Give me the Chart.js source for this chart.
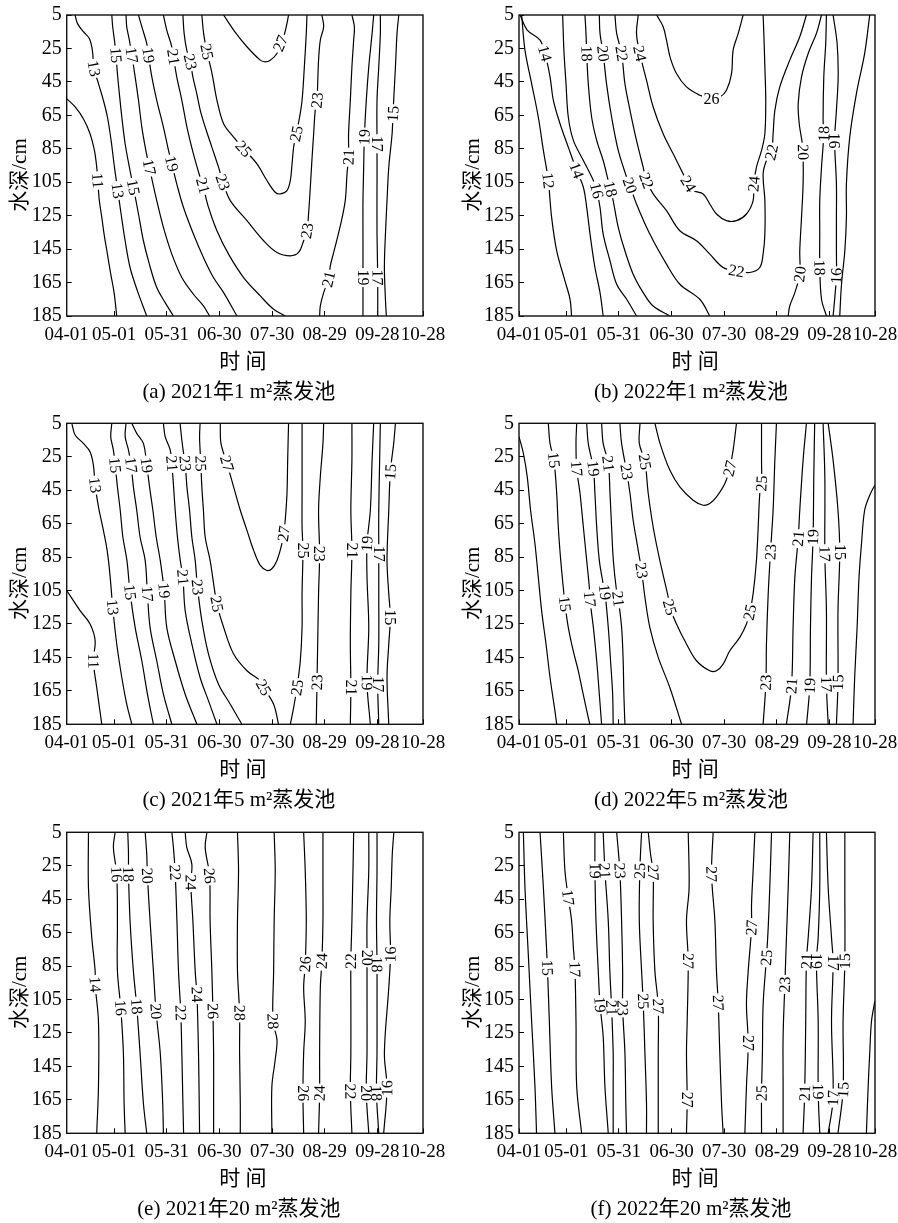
<!DOCTYPE html>
<html lang="zh">
<head>
<meta charset="utf-8">
<title>蒸发池水温等值线</title>
<script src="https://cdn.jsdelivr.net/npm/chart.js@4.4.1/dist/chart.umd.min.js"></script>
<style>
  html, body { margin: 0; padding: 0; background: #fff; }
  body { position: relative; width: 898px; height: 1223px; overflow: hidden; }
  canvas { position: absolute; }
</style>
</head>
<body>
<canvas id="pa" width="449" height="408" style="left:0;top:0"></canvas>
<canvas id="pb" width="449" height="408" style="left:449px;top:0"></canvas>
<canvas id="pc" width="449" height="407" style="left:0;top:408px"></canvas>
<canvas id="pd" width="449" height="407" style="left:449px;top:408px"></canvas>
<canvas id="pe" width="449" height="408" style="left:0;top:815px"></canvas>
<canvas id="pf" width="449" height="408" style="left:449px;top:815px"></canvas>
<script>
// x = days after 04-01, y = water depth (cm)
const X_MIN = 3, X_MAX = 206;
const X_TICKS = [3, 30, 60, 90, 120, 150, 180, 206];
const X_LABELS = ['04-01', '05-01', '05-31', '06-30', '07-30', '08-29', '09-28', '10-28'];
const Y_TICKS = [5, 25, 45, 65, 85, 105, 125, 145, 165, 185];
const X_TITLE = '时 间';
const Y_TITLE = '水深/cm';
const CAPTIONS = ['(a) 2021年1 m²蒸发池', '(b) 2022年1 m²蒸发池', '(c) 2021年5 m²蒸发池',
                  '(d) 2022年5 m²蒸发池', '(e) 2021年20 m²蒸发池', '(f) 2022年20 m²蒸发池'];

// isotherms: v = temperature, pts = [day, depth], lab = indexes of labelled points
const LINES_A = [
  {v: 11, pts: [[3,55],[7.8,60],[12.5,67],[16.3,76],[18.8,86],[20.1,96],[20.7,104],[21.6,116],[23,126],[24.3,136],[26.2,148],[28.1,160],[30,171],[31.5,185]], lab: [6]},
  {v: 13, pts: [[7.8,5],[9.1,10],[12.5,15],[15.9,19],[17.6,26],[18.6,37],[21.1,46],[23.9,56],[26.2,66],[28.3,80],[30.2,96],[32.1,110],[34,124],[36.3,140],[39.1,156],[43.3,170],[48.6,185]], lab: [5, 11]},
  {v: 15, pts: [[28.7,5],[29.2,12],[30.2,20],[31.1,29],[31.9,40],[33,52],[34.4,66],[36.3,82],[38.7,96],[41,108],[43.9,124],[46.7,140],[50.1,154],[54.3,168],[59.1,177],[63.8,185]], lab: [3, 9]},
  {v: 17, pts: [[36.8,5],[37.2,12],[38.7,20],[40.1,29],[42,42],[43.9,56],[45.8,72],[48.1,86],[50.1,96],[54.3,116],[58.1,132],[62.9,148],[68.6,162],[75.2,172],[80.9,179],[84.4,185]], lab: [3, 8]},
  {v: 19, pts: [[43.9,5],[45.8,12],[48.6,22],[49.6,29],[51.5,42],[54.3,56],[58.1,72],[61,86],[62.9,94],[65.7,106],[69.5,120],[75.2,136],[80.9,150],[86.6,162],[92.4,171],[100,185]], lab: [3, 8]},
  {v: 21, pts: [[58.1,5],[60,14],[62.9,24],[63.8,30],[65.7,42],[68.6,56],[71.5,72],[75.2,88],[79,102],[80.6,107],[83.8,120],[88.6,134],[95.2,148],[103.8,162],[113.3,173],[120.9,181],[127.5,185]], lab: [3, 9]},
  {v: 23, pts: [[69.2,5],[69.9,16],[71.4,26],[73.4,33],[74.9,42],[77.1,52],[79.1,62],[81.9,72],[85.7,84],[89.5,96],[92,105],[96.2,116],[105.7,128],[115.2,140],[122.8,147],[130.4,149],[135.1,147],[138,140],[139.9,134],[140.8,124],[141.8,108],[142.7,92],[143.7,76],[144.6,62],[145.6,56],[146,46],[146.5,32],[147.5,20],[149.4,12],[148.4,5]], lab: [3, 10, 18, 24]},
  {v: 25, pts: [[80,5],[81,16],[82.9,27],[85.8,40],[88.6,56],[92.4,70],[98.1,78],[103.8,85],[111.4,94],[117.1,104],[121.8,111],[124.7,112],[128.5,110],[130.4,104],[131.4,94],[132.3,84],[133.8,76],[135.7,66],[137.1,56],[138.4,36],[139.5,16],[139.9,5]], lab: [2, 7, 16]},
  {v: 27, pts: [[92.4,5],[98.1,14],[105.7,24],[113.3,32],[116.1,33],[119,32],[122.8,28],[124.7,22],[126.6,18],[128.5,10],[129.4,5]], lab: [7]},
  {v: 21, pts: [[165.5,5],[166.9,12],[166.5,20],[165.5,36],[164.6,56],[163.6,76],[163.6,90],[162.7,100],[161.7,116],[158.9,131],[155.1,147],[153.2,155],[152.2,163],[149.4,171],[147.5,179],[147.1,185]], lab: [6, 12]},
  {v: 19, pts: [[177.9,5],[177,16],[175.1,36],[173.7,56],[172.6,78],[172.2,96],[171.8,116],[171.8,136],[171.8,162],[171.8,185]], lab: [4, 8]},
  {v: 17, pts: [[181.7,5],[181.7,16],[180.8,36],[179.8,56],[179.8,82],[179.8,106],[179.8,136],[180.2,162],[180.2,185]], lab: [4, 7]},
  {v: 15, pts: [[192.2,5],[191.2,16],[190.3,36],[189.3,56],[188.9,64],[188.4,76],[186.5,96],[185.5,116],[184.6,136],[184,156],[184.6,175],[185.1,185]], lab: [4]}
];

const LINES_B = [
  {v: 12, pts: [[4.5,5],[6.4,26],[10.2,46],[14,66],[16.9,86],[19.7,104],[21.6,126],[24.5,146],[29.2,164],[32.1,175],[33,185]], lab: [5]},
  {v: 14, pts: [[3.6,5],[7.7,14],[15,20],[17.8,28],[20.7,42],[22.6,56],[26.4,70],[31.1,84],[35.9,98],[39.7,108],[41.6,120],[43.5,136],[46.3,156],[49.2,171],[51,185]], lab: [3, 8]},
  {v: 16, pts: [[27.9,5],[28.6,26],[29.8,46],[31.1,66],[34,80],[39.7,92],[45.4,104],[47.3,110],[49.2,120],[51,136],[54.9,152],[58.7,166],[64.4,175],[70,185]], lab: [7]},
  {v: 18, pts: [[40.6,5],[41.2,16],[41.6,28],[42.5,46],[44.4,66],[47.3,80],[51,92],[53.9,104],[55.2,109],[56.7,116],[59.6,132],[63.4,146],[68.1,160],[73.8,171],[79.5,179],[89,185]], lab: [2, 8]},
  {v: 20, pts: [[48.8,5],[49.2,16],[51,28],[52.9,46],[55.8,66],[59.6,86],[64.4,102],[66.3,107],[70,118],[77.6,136],[87.1,154],[94.7,166],[106.1,175],[111.8,185]], lab: [2, 7]},
  {v: 22, pts: [[57.7,5],[58.7,16],[61.5,28],[63.4,46],[66.3,62],[70,80],[73.8,96],[75.7,104],[79.5,112],[87.1,122],[94.7,134],[104.2,140],[111.8,148],[119.4,156],[127,158],[134.6,159],[140.3,156],[142.2,148],[143.2,136],[143.2,116],[142.2,100],[144.1,92],[147,87],[147.9,76],[148.9,62],[151.7,48],[157.4,32],[163.1,18],[166.9,5]], lab: [2, 7, 14, 22]},
  {v: 24, pts: [[71,5],[70,16],[71.9,28],[75.7,44],[79.5,60],[85.2,76],[90.9,88],[96.6,100],[99.5,106],[102.4,110],[108,112],[111.8,118],[115.6,124],[121.3,128],[127,128],[132.7,124],[136.5,116],[136.9,106],[138.4,96],[141.3,86],[143.2,76],[143.7,56],[143.2,36],[142.6,16],[142.2,5]], lab: [2, 8, 17]},
  {v: 26, pts: [[81.5,5],[85.2,12],[87.1,20],[89.1,30],[92.8,40],[98.5,48],[106.1,53],[109.9,54],[112.8,55],[117.6,54],[121.3,50],[124.2,40],[125.1,26],[128,16],[130.8,5]], lab: [8]},
  {v: 20, pts: [[175.5,5],[172.6,16],[167.9,28],[164.1,42],[162.2,58],[162.8,70],[164.6,82],[165,87],[165,106],[164.1,126],[163.1,146],[163.1,160],[160.3,171],[157.4,179],[156.5,185]], lab: [7, 11]},
  {v: 18, pts: [[178.3,5],[177.9,22],[176.8,42],[176.4,68],[176.8,76],[175.5,96],[174.5,116],[174.5,136],[174.5,156],[175.5,175],[178.3,185]], lab: [4, 8]},
  {v: 16, pts: [[182.1,5],[184.4,22],[185,42],[184,62],[183,80],[184,106],[184,126],[184,146],[184,161],[183,175],[182.1,185]], lab: [4, 8]},
  {v: 14, pts: [[203,5],[200.1,28],[195.4,52],[191.6,78],[189.7,106],[189.7,126],[188.8,146],[186.9,166],[185.9,185]], lab: []}
];

const LINES_C = [
  {v: 11, pts: [[3,105],[10.6,117],[16.3,125],[19.2,135],[18.2,147],[20.1,163],[23,185]], lab: [4]},
  {v: 13, pts: [[5.9,5],[7.8,12],[12.5,17],[16.3,22],[18.2,30],[19.2,42],[21.1,55],[23.5,67],[25.4,77],[26.8,87],[28.1,101],[29.2,115],[31.5,137],[34.4,157],[37.2,173],[40.1,185]], lab: [5, 11]},
  {v: 15, pts: [[28.7,5],[28.1,13],[29.6,21],[30.6,30],[31.9,43],[33.5,57],[35,73],[37.3,87],[39.1,106],[42,127],[45.8,147],[49,167],[52.4,185]], lab: [3, 8]},
  {v: 17, pts: [[36.8,5],[36.3,13],[38.2,21],[39.7,30],[41,43],[42.9,57],[44.8,73],[47.7,87],[49,107],[50.5,127],[54.3,147],[58.1,167],[62.9,185]], lab: [3, 8]},
  {v: 19, pts: [[40.1,5],[42.9,11],[46.7,17],[48.6,30],[50.2,43],[52.1,57],[54,73],[56.3,87],[58.5,105],[60,127],[64.8,147],[70.5,167],[77.2,185]], lab: [3, 8]},
  {v: 21, pts: [[58.1,5],[59.1,13],[62,21],[62.9,29],[63.9,43],[64.8,57],[66.1,73],[67.7,87],[69.2,97],[70.5,117],[74.3,137],[79,157],[83.8,171],[88.6,185]], lab: [3, 8]},
  {v: 23, pts: [[67.6,5],[68.6,15],[69.6,23],[70.5,29],[71.5,43],[73,57],[74.3,73],[76.2,87],[77.5,103],[80,123],[83.8,143],[89.5,161],[96.2,173],[102.8,185]], lab: [3, 8]},
  {v: 25, pts: [[79,5],[78.7,13],[79,21],[79.4,29],[80,43],[80.9,57],[81.9,73],[84.7,87],[88.6,113],[92.4,127],[98.1,143],[105.7,153],[113.3,159],[115.2,163],[120.9,173],[123.7,185]], lab: [3, 8, 13]},
  {v: 27, pts: [[90.5,5],[90.9,17],[94.3,29],[98.1,43],[101.9,57],[105.7,69],[109.5,81],[113.3,90],[117.1,93],[119.9,92],[122.8,87],[125.6,77],[126.6,71],[127.5,63],[128.5,47],[128.9,27],[129.4,5]], lab: [2, 12]},
  {v: 25, pts: [[137.1,5],[137.1,27],[137.1,47],[137.1,67],[137.6,81],[137.1,107],[137.1,127],[136.1,147],[134.2,163],[132.3,175],[130.4,185]], lab: [4, 8]},
  {v: 23, pts: [[149.4,5],[149,17],[147.5,37],[146.5,57],[147.1,83],[146.5,107],[146,137],[145.6,160],[145.2,185]], lab: [4, 7]},
  {v: 21, pts: [[165.5,5],[165.5,27],[164.9,57],[165.5,81],[164.9,107],[164.6,137],[164.9,163],[164.6,185]], lab: [3, 6]},
  {v: 19, pts: [[177.9,5],[177,27],[176,57],[174.1,77],[174.1,97],[175.1,127],[174.1,160],[176,185]], lab: [3, 6]},
  {v: 17, pts: [[181.7,5],[181.3,27],[180.8,57],[180.8,83],[180.8,107],[180.8,137],[180.2,161],[180.8,185]], lab: [3, 6]},
  {v: 15, pts: [[190.3,5],[189.3,17],[187.4,34],[186.5,57],[185.5,87],[186.5,107],[187.4,121],[186.5,137],[185.5,157],[186.5,185]], lab: [2, 6]}
];

const LINES_D = [
  {v: 13, pts: [[3,13],[5.5,23],[7.7,37],[9.6,57],[12.1,77],[14,97],[15.9,117],[18.4,137],[20.7,157],[23.5,177],[24.5,185]], lab: []},
  {v: 15, pts: [[19.7,5],[20.7,17],[22.9,27],[24.5,47],[25.4,67],[26.8,87],[28.6,107],[29.2,113],[31.1,127],[33.9,141],[36.8,153],[39.6,167],[42.5,181],[43.4,185]], lab: [2, 7]},
  {v: 17, pts: [[35.9,5],[35.5,17],[35.9,32],[37.8,47],[39.7,67],[41.6,87],[43.1,103],[43.4,110],[45.4,127],[47.3,147],[48.8,167],[50.1,185]], lab: [2, 7]},
  {v: 19, pts: [[41.6,5],[42.5,17],[45.4,32],[46.3,47],[47.3,67],[48.8,87],[51,101],[52,106],[53.9,127],[55.2,147],[56.4,167],[56.7,185]], lab: [2, 7]},
  {v: 21, pts: [[50.1,5],[51,17],[53.9,29],[54.9,47],[55.8,67],[56.8,87],[58.6,105],[59.6,110],[61.5,127],[62.4,147],[62.8,167],[63.4,185]], lab: [2, 7]},
  {v: 23, pts: [[60.5,5],[61.5,17],[64.4,34],[66.3,47],[68.1,63],[71,81],[72.9,93],[74.8,109],[77.6,127],[82.4,145],[89,163],[95.7,185]], lab: [2, 6]},
  {v: 25, pts: [[72,5],[71.6,17],[74.8,28],[76.7,47],[79.5,67],[83.3,87],[88.1,109],[89,115],[92.8,125],[98.5,137],[104.2,147],[111.8,153],[115.6,153],[119.4,149],[123.2,141],[128.9,133],[132.7,125],[134.6,118],[136.5,107],[138.4,87],[139.4,67],[140.3,47],[141.3,41],[141.3,27],[141.3,5]], lab: [2, 7, 17, 22]},
  {v: 27, pts: [[80.5,5],[83.4,17],[89,33],[94.7,43],[102.3,51],[108,54],[111.8,53],[115.6,49],[120.4,41],[123.2,32],[125.1,21],[126.1,13],[127,5]], lab: [9]},
  {v: 23, pts: [[149.8,5],[148.9,27],[147.9,57],[146.4,82],[145.1,107],[144.1,137],[143.8,160],[142.2,185]], lab: [3, 6]},
  {v: 21, pts: [[166.9,5],[165,27],[163.1,57],[162.2,74],[160.3,97],[159.3,127],[158.4,162],[155.5,185]], lab: [3, 6]},
  {v: 19, pts: [[171.6,5],[171.1,37],[170.7,73],[169.8,97],[169.2,127],[168.8,162],[167,185]], lab: [2, 5]},
  {v: 17, pts: [[176.4,5],[177.4,37],[177.4,83],[178.3,117],[178.3,161],[179.3,185]], lab: [2, 4]},
  {v: 15, pts: [[179.3,5],[182.1,27],[184.9,57],[185.9,82],[184.9,117],[184.9,160],[184,185]], lab: [3, 5]},
  {v: 13, pts: [[205.9,42],[203,48],[200.1,57],[198.3,77],[196.9,97],[195.8,127],[194.4,157],[193.5,185]], lab: []}
];

const LINES_E = [
  {v: 14, pts: [[15.4,5],[15.4,38],[17.3,68],[19.2,88],[19.2,96],[21.1,118],[21.1,157],[20.1,185]], lab: [4]},
  {v: 16, pts: [[30.6,5],[29.6,14],[31.5,30],[31.9,58],[31.9,88],[33.8,110],[35.3,137],[35.7,167],[36.3,185]], lab: [2, 5]},
  {v: 18, pts: [[37.8,5],[38.2,18],[38.2,30],[39.1,58],[41,88],[42.9,109],[44.8,137],[46.7,167],[48.6,185]], lab: [2, 5]},
  {v: 20, pts: [[47.7,5],[48.6,18],[49,31],[50.5,58],[52.4,88],[53.9,112],[56.3,137],[57.7,167],[58.1,185]], lab: [2, 5]},
  {v: 22, pts: [[62.9,5],[63.8,14],[64.8,29],[65.8,58],[66.7,88],[68,113],[68.6,137],[69.2,167],[69.6,185]], lab: [2, 5]},
  {v: 24, pts: [[70.5,5],[71.4,14],[74.3,24],[73.7,35],[74.9,58],[76.2,88],[77.2,102],[78.1,137],[78.5,167],[78.7,185]], lab: [3, 6]},
  {v: 26, pts: [[82.9,5],[81.9,14],[84.4,31],[84.7,58],[85.7,88],[86.3,112],[86.7,137],[86.7,167],[86.7,185]], lab: [2, 5]},
  {v: 28, pts: [[100.3,5],[100.9,28],[100.3,58],[100.3,88],[101.5,113],[101.5,137],[101.9,167],[101.9,185]], lab: [4]},
  {v: 28, pts: [[121.2,5],[121.8,28],[121.2,58],[120.9,88],[120.5,118],[122.8,129],[121.8,141],[119.9,157],[119.9,185]], lab: [4]},
  {v: 26, pts: [[138,5],[138.9,28],[139.5,58],[138.9,84],[138,98],[138.9,118],[138,137],[137.6,161],[138,185]], lab: [3, 7]},
  {v: 24, pts: [[149,5],[149,38],[149,58],[148.4,82],[147.5,98],[147.1,137],[147.1,161],[146.5,185]], lab: [3, 6]},
  {v: 22, pts: [[166.5,5],[166.1,28],[165.5,58],[164.9,82],[164.9,108],[164.9,137],[164.6,160],[165.5,185]], lab: [3, 6]},
  {v: 20, pts: [[175.1,5],[175.1,28],[174.1,58],[174.1,80],[174.1,108],[174.1,137],[173.7,161],[175.1,185]], lab: [3, 6]},
  {v: 18, pts: [[179.8,5],[179.8,28],[179.5,58],[179.8,84],[179.8,108],[179.8,137],[179.5,161],[180.8,185]], lab: [3, 6]},
  {v: 16, pts: [[189.4,5],[188.5,18],[187.9,38],[187.1,58],[187.5,78],[186.5,98],[184,137],[185.5,158],[183.6,185]], lab: [4, 7]}
];

const LINES_F = [
  {v: 13, pts: [[5.5,5],[6.4,38],[8.3,78],[10.2,118],[12.1,157],[13,185]], lab: []},
  {v: 15, pts: [[15,5],[16.9,38],[18.4,68],[19.2,86],[20.3,118],[21.6,157],[23.5,185]], lab: [3]},
  {v: 17, pts: [[28.3,5],[29.2,28],[31.1,44],[33,58],[34,74],[34.9,87],[35.5,118],[35.9,157],[38.7,185]], lab: [2, 5]},
  {v: 19, pts: [[46.3,5],[46.3,28],[46.9,58],[48.2,88],[49.2,108],[51,127],[52,157],[53.9,185]], lab: [1, 4]},
  {v: 21, pts: [[51,5],[52,28],[53.9,58],[54.8,88],[55.8,110],[56.7,137],[56.7,157],[56.7,185]], lab: [1, 4]},
  {v: 23, pts: [[58.7,5],[60.5,28],[61.5,58],[62.1,88],[62.1,110],[63.4,137],[63.9,167],[64.3,185]], lab: [1, 4]},
  {v: 25, pts: [[72.9,5],[71.9,28],[71.6,58],[72.9,88],[73.8,106],[74.8,137],[75.7,167],[75.7,185]], lab: [1, 4]},
  {v: 27, pts: [[76.7,5],[78,18],[79.5,29],[79.5,58],[80.5,88],[82.4,109],[82.4,137],[82.4,167],[82.4,185]], lab: [2, 5]},
  {v: 27, pts: [[99.5,5],[100,38],[98.5,58],[99.5,82],[98.9,118],[98.5,137],[98.9,165],[98.5,185]], lab: [3, 6]},
  {v: 27, pts: [[113.7,5],[112.8,30],[114.7,58],[115.6,88],[116.6,107],[117.5,137],[118.5,167],[119.4,185]], lab: [1, 4]},
  {v: 27, pts: [[137.5,5],[136.5,28],[135.6,48],[135.6,62],[133.7,88],[132.7,108],[133.7,131],[132.7,157],[131.8,185]], lab: [3, 6]},
  {v: 25, pts: [[147,5],[146,38],[145.1,62],[144.1,80],[142.2,108],[141.8,137],[141.3,161],[141.3,185]], lab: [3, 6]},
  {v: 23, pts: [[157.4,5],[156.5,38],[155.5,68],[154.6,96],[153.6,127],[153.6,157],[153.6,185]], lab: [3]},
  {v: 21, pts: [[170.7,5],[169.8,38],[167.9,68],[166.9,82],[166.5,118],[165.9,161],[165,185]], lab: [3, 5]},
  {v: 19, pts: [[174.5,5],[174.5,38],[173.6,68],[172.6,82],[173.6,118],[173.6,160],[174.5,185]], lab: [3, 5]},
  {v: 17, pts: [[178.3,5],[179.3,38],[181.2,68],[182.1,83],[181.2,118],[182.1,164],[179.3,185]], lab: [3, 5]},
  {v: 15, pts: [[188.8,5],[188.8,38],[188.8,82],[187.8,118],[187.8,159],[184.9,185]], lab: [2, 4]},
  {v: 13, pts: [[205.9,106],[204,118],[203,137],[202.1,157],[201.1,185]], lab: []}
];

const SERIF = '"Liberation Serif", serif';
const MIXED = '"Liberation Serif", "Noto Sans CJK SC", serif';

// labels written along the isotherm, with a white gap under them
const contourLabels = {
  id: 'contourLabels',
  afterDatasetsDraw(chart) {
    const ctx = chart.ctx;
    ctx.save();
    ctx.font = '16px ' + SERIF;
    ctx.textAlign = 'center';
    ctx.textBaseline = 'middle';
    chart.data.datasets.forEach((ds, i) => {
      const pts = chart.getDatasetMeta(i).data;
      (ds.labelAt || []).forEach(k => {
        const p = pts[k];
        if (!p) return;
        const a = pts[Math.max(k - 1, 0)], b = pts[Math.min(k + 1, pts.length - 1)];
        let ang = Math.atan2(b.y - a.y, b.x - a.x);
        if (ang > Math.PI / 2) ang -= Math.PI;
        if (ang < -Math.PI / 2) ang += Math.PI;
        const txt = String(ds.level);
        const w = ctx.measureText(txt).width;
        ctx.save();
        ctx.translate(p.x, p.y);
        ctx.rotate(ang);
        ctx.fillStyle = '#fff';
        ctx.fillRect(-w / 2 - 1.5, -4.5, w + 3, 9);
        ctx.fillStyle = '#000';
        ctx.fillText(txt, 0, 1);
        ctx.restore();
      });
    });
    ctx.restore();
  }
};

// box round the plot, axis titles and panel caption
const frame = {
  id: 'frame',
  afterDraw(chart, args, opts) {
    const {ctx, chartArea: a} = chart;
    ctx.save();
    ctx.strokeStyle = '#111';
    ctx.lineWidth = 1.4;
    ctx.strokeRect(a.left, a.top, a.right - a.left, a.bottom - a.top);
    ctx.fillStyle = '#000';
    ctx.textAlign = 'center';
    ctx.textBaseline = 'middle';
    ctx.font = '21px ' + MIXED;
    const cx = (a.left + a.right) / 2;
    ctx.fillText(X_TITLE, cx - 2, a.bottom + 46);
    ctx.fillText(opts.caption, cx - 6, a.bottom + 76);
    ctx.translate(a.left - 46, a.top + 160);
    ctx.rotate(-Math.PI / 2);
    ctx.fillText(Y_TITLE, 0, 0);
    ctx.restore();
  }
};

function makePanel(id, lines, caption, yWidth, padRight, padTop) {
  const canvas = document.getElementById(id);
  const xHeight = canvas.height - padTop - 301;
  const datasets = lines.map(l => ({
    data: l.pts.map(p => ({x: p[0], y: p[1]})),
    level: l.v,
    labelAt: l.lab,
    showLine: true,
    borderColor: '#000',
    borderWidth: 1.2,
    pointRadius: 0,
    tension: 0.35,
    fill: false
  }));

  new Chart(canvas.getContext('2d'), {
    type: 'scatter',
    data: {datasets},
    options: {
      responsive: false,
      animation: false,
      events: [],
      layout: {padding: {left: 0, right: padRight, top: padTop, bottom: 0}},
      plugins: {
        legend: {display: false},
        tooltip: {enabled: false},
        frame: {caption}
      },
      scales: {
        x: {
          type: 'linear',
          min: X_MIN,
          max: X_MAX,
          afterBuildTicks: s => { s.ticks = X_TICKS.map(v => ({value: v})); },
          afterFit: s => { s.height = xHeight; s.paddingLeft = 0; s.paddingRight = 0; },
          border: {display: false},
          grid: {drawOnChartArea: false, drawTicks: true, tickLength: -5, color: '#000', lineWidth: 1},
          ticks: {
            autoSkip: false,
            maxRotation: 0,
            padding: 12.5,
            color: '#000',
            font: {family: SERIF, size: 19},
            callback: v => X_LABELS[X_TICKS.indexOf(v)]
          }
        },
        y: {
          type: 'linear',
          reverse: true,
          min: 5,
          max: 185,
          afterBuildTicks: s => { s.ticks = Y_TICKS.map(v => ({value: v})); },
          afterFit: s => { s.width = yWidth; s.paddingTop = 0; s.paddingBottom = 0; },
          border: {display: false},
          grid: {drawOnChartArea: false, drawTicks: true, tickLength: -5, color: '#000', lineWidth: 1},
          ticks: {
            padding: 10,
            color: '#000',
            font: {family: SERIF, size: 20},
            callback: v => String(v)
          }
        }
      }
    },
    plugins: [contourLabels, frame]
  });
}

makePanel('pa', LINES_A, CAPTIONS[0], 66.7, 26, 15);
makePanel('pb', LINES_B, CAPTIONS[1], 70, 23, 15);
makePanel('pc', LINES_C, CAPTIONS[2], 66.7, 26, 15.3);
makePanel('pd', LINES_D, CAPTIONS[3], 70, 23, 15.3);
makePanel('pe', LINES_E, CAPTIONS[4], 66.7, 26, 17.3);
makePanel('pf', LINES_F, CAPTIONS[5], 70, 23, 17.3);
</script>
</body>
</html>
